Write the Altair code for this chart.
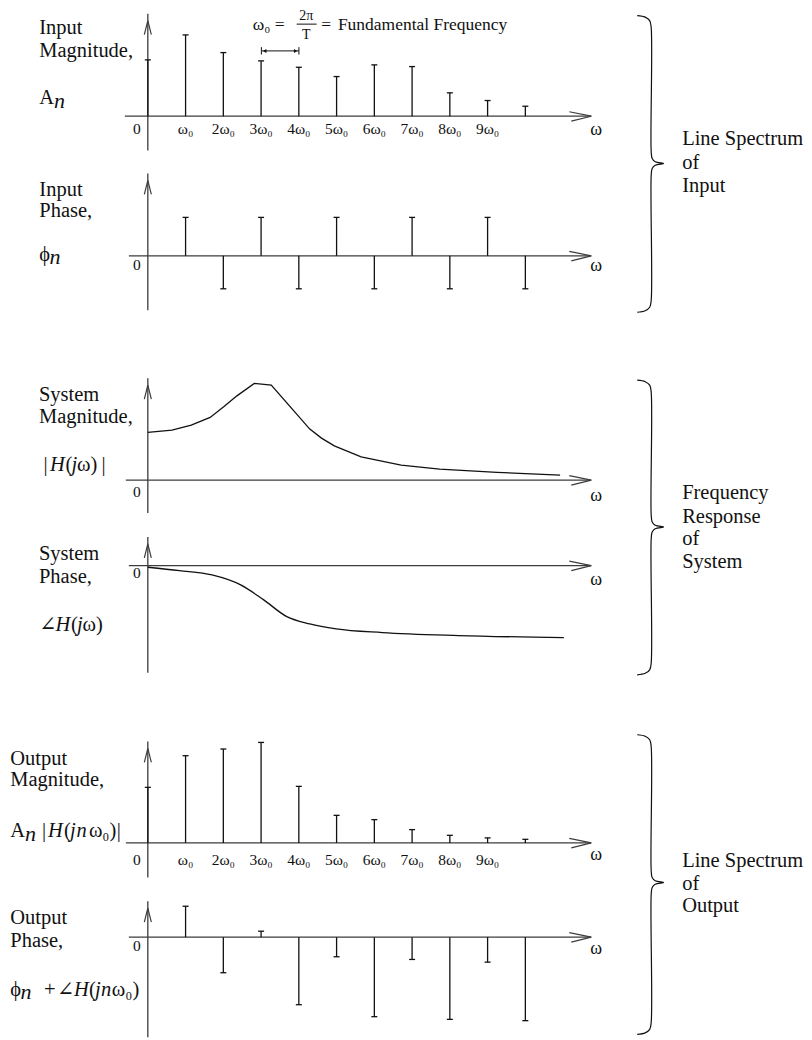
import altair as alt
import pandas as pd

# ---------------- data ----------------
harmonic = list(range(11))                      # n = 0 .. 10  (omega = n * omega0)
tick_labels = ["ω₀", "2ω₀", "3ω₀", "4ω₀", "5ω₀", "6ω₀", "7ω₀", "8ω₀", "9ω₀"]

input_magnitude = [5.64, 8.14, 6.37, 5.54, 4.90, 3.97, 5.14, 4.97, 2.34, 1.57, 1.00]   # n = 0..10
input_phase = [3.85, -3.30, 3.85, -3.30, 3.85, -3.30, 3.85, -3.30, 3.85, -3.30]        # n = 1..10

system_mag_w = [0.0, 0.64, 1.15, 1.65, 2.01, 2.36, 2.82, 3.27, 4.29, 4.60, 4.94, 5.65, 6.71, 7.73, 9.25, 10.92]
system_mag = [4.77, 5.00, 5.50, 6.27, 7.33, 8.43, 9.67, 9.50, 5.10, 4.20, 3.43, 2.33, 1.50, 1.10, 0.77, 0.50]

system_phase_w = [0.0, 0.84, 1.70, 2.46, 3.07, 3.68, 4.29, 4.99, 6.21, 8.23, 11.02]
system_phase = [-0.16, -0.50, -0.93, -1.93, -3.43, -5.10, -5.83, -6.33, -6.70, -7.00, -7.20]

output_magnitude = [5.56, 8.73, 9.40, 10.06, 5.66, 2.76, 2.33, 1.33, 0.76, 0.50, 0.36]  # n = 0..10
output_phase = [3.10, -3.56, 0.60, -6.76, -1.96, -7.96, -2.23, -8.23, -2.50, -8.36]       # n = 1..10

# ---------------- layout / style ----------------
FONT = "Liberation Serif, DejaVu Serif, serif"
INK = "#111111"
AX = "#3c3c3c"
W = 796
X0, PPW, PPU = 148.0, 37.8, 10.0          # page x of omega=0, px per omega0, px per value unit
XS = alt.Scale(domain=[(8 - X0) / PPW, (8 + W - X0) / PPW], nice=False, zero=False)
CAP = 3.0 / PPW
LBL = 20.5

PANELS = [
    dict(top=8, h=150, base=115.7, vtop=13, vbot=150, hx=125),
    dict(top=158, h=165, base=255.5, vtop=173, vbot=310, hx=129),
    dict(top=323, h=197, base=480.0, vtop=378, vbot=513, hx=126),
    dict(top=520, h=170, base=565.7, vtop=537, vbot=673, hx=129),
    dict(top=690, h=170, base=843.3, vtop=741.7, vbot=878, hx=126),
    dict(top=860, h=178, base=937.7, vtop=901.7, vbot=1038, hx=129),
]


def ys(p):
    return alt.Scale(domain=[(p["base"] - p["top"] - p["h"]) / PPU, (p["base"] - p["top"]) / PPU],
                     nice=False, zero=False)


def wx(px):
    return (px - X0) / PPW


def vy(p, py):
    return (p["base"] - py) / PPU


def XE(field="w"):
    return alt.X(f"{field}:Q", scale=XS, axis=None)


def YE(p, field="v"):
    return alt.Y(f"{field}:Q", scale=ys(p), axis=None)


def segs(p, s, color=AX, sw=1.3):
    df = pd.DataFrame([{"w": wx(a), "v": vy(p, b), "w2": wx(c), "v2": vy(p, d)} for a, b, c, d in s])
    return alt.Chart(df).mark_rule(color=color, strokeWidth=sw).encode(
        x=XE(), y=YE(p), x2="w2:Q", y2="v2:Q")


def polys(p, lines, color=AX, sw=1.2, interp="linear"):
    rows = []
    for g, pts in enumerate(lines):
        for i, (a, b) in enumerate(pts):
            rows.append({"w": wx(a), "v": vy(p, b), "g": g, "i": i})
    return alt.Chart(pd.DataFrame(rows)).mark_line(color=color, strokeWidth=sw, interpolate=interp).encode(
        x=XE(), y=YE(p), detail="g:N", order="i:Q")


def texts(p, items, size=LBL, style="normal", align="left", color=INK):
    df = pd.DataFrame([{"w": wx(a), "v": vy(p, b), "t": t} for a, b, t in items])
    return alt.Chart(df).mark_text(font=FONT, fontSize=size, fontStyle=style, align=align,
                                   baseline="alphabetic", color=color).encode(
        x=XE(), y=YE(p), text="t:N")


def stems(p, ns, vals):
    df = pd.DataFrame({"w": ns, "v0": [0.0] * len(ns), "v": vals})
    base = alt.Chart(df)
    stem = base.mark_rule(color=INK, strokeWidth=1.3).encode(x=XE(), y=YE(p), y2="v0:Q")
    cap = base.transform_calculate(wl=f"datum.w - {CAP}", wr=f"datum.w + {CAP}").mark_rule(
        color=INK, strokeWidth=1.3).encode(x=XE("wl"), x2="wr:Q", y=YE(p))
    return [stem, cap]


def ticklabels(p, py):
    df = pd.DataFrame({"w": harmonic[1:10], "t": tick_labels})
    return alt.Chart(df).transform_calculate(v=f"{vy(p, py)}").mark_text(
        font=FONT, fontSize=15.5, align="center", baseline="alphabetic", color=INK).encode(
        x=XE(), y=YE(p), text="t:N")


def axes(p, zero_y, omega_y):
    b, t = p["base"], p["vtop"]
    return [
        segs(p, [(X0, t, X0, p["vbot"]), (p["hx"], b, 592, b)]),
        polys(p, [[(570, b - 4.5), (592, b), (572, b + 5)],
                  [(144.5, t + 21), (X0, t + 7), (151.5, t + 21)]]),
        texts(p, [(137, zero_y, "0")], size=15.5, align="center"),
        texts(p, [(597, omega_y, "ω")], size=18, align="center"),
    ]


def brace(t, b, c, x=652.0):
    return [(638, t), (646, t + 1.5), (650.5, t + 5), (x, t + 12), (x, c - 12), (x + 1, c - 5),
            (x + 4, c - 1.8), (x + 12.5, c), (x + 4, c + 1.8), (x + 1, c + 5), (x, c + 12),
            (x, b - 12), (650.5, b - 5), (646, b - 1.5), (638, b)]


def panel(p, layers):
    return alt.layer(*layers).properties(width=W, height=p["h"])


P = PANELS

# ---- panel 1 : input magnitude ----
p = P[0]
arrows = pd.DataFrame({"w": [wx(265.0), wx(296.0)], "v": [vy(p, 50.3)] * 2,
                       "s": ["triangle-left", "triangle-right"]})
l1 = axes(p, 133.3, 135) + stems(p, harmonic, input_magnitude) + [
    ticklabels(p, 133.3),
    texts(p, [(39.3, 33.3, "Input"), (39.3, 56, "Magnitude,"), (39.3, 103.3, "A")]),
    texts(p, [(54, 107.3, "n")], size=22, style="italic"),
    texts(p, [(253, 29.3, "ω₀ ="), (321.7, 29.3, "="), (338.3, 29.3, "Fundamental Frequency")], size=17.5),
    texts(p, [(306.7, 19.2, "2π"), (306.7, 38.3, "T")], size=14, align="center"),
    segs(p, [(297, 23.5, 317, 23.5), (262, 50.3, 299.3, 50.3), (261.7, 46.5, 261.7, 54),
             (299.3, 46.5, 299.3, 54)], color=INK, sw=1.0),
    alt.Chart(arrows).mark_point(filled=True, size=16, color=INK, opacity=1).encode(
        x=XE(), y=YE(p), shape=alt.Shape("s:N", scale=None)),
    polys(p, [brace(15, 312, 163)], color=INK, sw=1.2, interp="catmull-rom"),
    texts(p, [(683, 145, "Line Spectrum"), (683, 168.3, "of"), (683, 191.7, "Input")]),
]
c1 = panel(p, l1)

# ---- panel 2 : input phase ----
p = P[1]
l2 = axes(p, 270, 270.7) + stems(p, harmonic[1:], input_phase) + [
    texts(p, [(39.4, 195.3, "Input"), (39.4, 217, "Phase,"), (39.4, 261, "ϕ")]),
    texts(p, [(49.5, 263.5, "n")], size=22, style="italic"),
]
c2 = panel(p, l2)

# ---- panel 3 : system magnitude ----
p = P[2]
mag_df = pd.DataFrame({"w": system_mag_w, "v": system_mag})
l3 = axes(p, 496.7, 500.7) + [
    alt.Chart(mag_df).mark_line(color=INK, strokeWidth=1.3).encode(x=XE(), y=YE(p)),
    texts(p, [(39, 400.7, "System"), (39, 422.7, "Magnitude,"), (43.5, 470.7, "|"),
              (65.5, 470.7, "("), (77, 470.7, "ω)"), (101.5, 470.7, "|")]),
    texts(p, [(50, 470.7, "H"), (71.5, 470.7, "j")], style="italic"),
    polys(p, [brace(380, 675, 527)], color=INK, sw=1.2, interp="catmull-rom"),
    texts(p, [(683, 499.3, "Frequency"), (683, 522.7, "Response"), (683, 545, "of"), (683, 568.3, "System")]),
]
c3 = panel(p, l3)

# ---- panel 4 : system phase ----
p = P[3]
ph_df = pd.DataFrame({"w": system_phase_w, "v": system_phase})
l4 = axes(p, 578.3, 585) + [
    alt.Chart(ph_df).mark_line(color=INK, strokeWidth=1.3, interpolate="monotone").encode(x=XE(), y=YE(p)),
    texts(p, [(39, 560, "System"), (39, 583.3, "Phase,"), (39.3, 630.7, "∠"),
              (71, 630.7, "("), (82.5, 630.7, "ω)")]),
    texts(p, [(55.5, 630.7, "H"), (77, 630.7, "j")], style="italic"),
]
c4 = panel(p, l4)

# ---- panel 5 : output magnitude ----
p = P[4]
l5 = axes(p, 865, 860) + stems(p, harmonic, output_magnitude) + [
    ticklabels(p, 865),
    texts(p, [(10.3, 765, "Output"), (10.3, 786.7, "Magnitude,"), (10.3, 837.5, "A"), (42, 837.5, "|"),
              (64, 837.5, "("), (89, 837.5, "ω₀)"), (117, 837.5, "|")]),
    texts(p, [(25, 841, "n")], size=22, style="italic"),
    texts(p, [(48, 837.5, "H"), (70, 837.5, "j"), (76.5, 837.5, "n")], style="italic"),
    polys(p, [brace(735, 1035, 883)], color=INK, sw=1.2, interp="catmull-rom"),
    texts(p, [(683, 867, "Line Spectrum"), (683, 890, "of"), (683, 912, "Output")]),
]
c5 = panel(p, l5)

# ---- panel 6 : output phase ----
p = P[5]
l6 = axes(p, 951.7, 955) + stems(p, harmonic[1:], output_phase) + [
    texts(p, [(10.3, 925, "Output"), (10.3, 947.3, "Phase,"), (10.3, 996.7, "ϕ"), (44, 996.7, "+"),
              (57, 996.7, "∠"), (89, 996.7, "("), (112, 996.7, "ω₀)")]),
    texts(p, [(20.5, 999.5, "n")], size=22, style="italic"),
    texts(p, [(74, 996.7, "H"), (95, 996.7, "j"), (101, 996.7, "n")], style="italic"),
]
c6 = panel(p, l6)

chart = alt.vconcat(c1, c2, c3, c4, c5, c6, spacing=0, bounds="flush").properties(
    padding=0, background="white").configure_view(stroke=None)

chart.save("out.html", embed_options={"renderer": "svg", "actions": False})
